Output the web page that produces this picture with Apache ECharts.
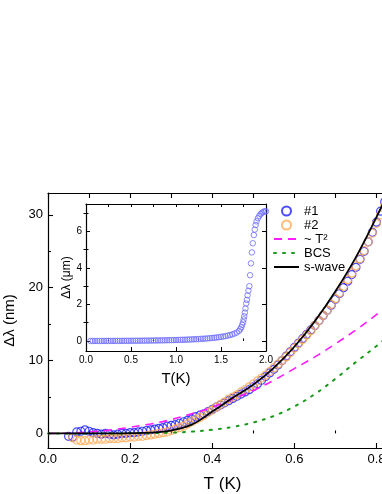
<!DOCTYPE html>
<html><head><meta charset="utf-8">
<script src="https://cdn.jsdelivr.net/npm/echarts@6/dist/echarts.min.js"></script>
<style>html,body{margin:0;padding:0;background:#fff}#c{width:382px;height:494px}</style>
</head><body><div id="c"></div>
<script>
// ---- Main panel data (T in K, Δλ in nm) ----
var t1 = [0.05,0.06,0.07,0.08,0.09,0.10,0.11,0.12,0.13,0.14,0.15,0.16,0.17,0.18,0.19,0.20,0.21,0.22,0.23,0.24,0.25,0.26,0.27,0.28,0.29,0.30,0.31,0.32,0.33,0.34,0.35,0.36,0.37,0.38,0.39,0.40,0.41,0.42,0.43,0.44,0.45,0.46,0.47,0.48,0.49,0.50,0.51,0.52,0.53,0.54,0.55,0.56,0.57,0.58,0.59,0.60,0.61,0.62,0.63,0.64,0.65,0.66,0.67,0.68,0.69,0.70,0.71,0.72,0.73,0.74,0.75,0.76,0.77,0.78,0.79,0.80,0.81,0.82];
var dl1 = [-0.4,-0.5,0.2,0.3,0.5,0.3,0.1,0.0,-0.1,0.0,-0.1,-0.2,-0.1,0.0,0.0,0.1,0.1,0.2,0.3,0.4,0.5,0.6,0.7,0.8,1.0,1.1,1.2,1.4,1.6,1.8,2.0,2.3,2.5,2.7,3.0,3.3,3.6,3.9,4.2,4.5,4.8,5.1,5.4,5.7,6.0,6.4,6.8,7.3,7.8,8.3,8.8,9.4,10.0,10.6,11.2,11.8,12.4,13.0,13.6,14.2,14.8,15.5,16.2,16.9,17.6,18.4,19.2,20.0,20.9,21.8,22.8,23.9,25.0,26.3,27.6,29.0,30.5,31.8];
var t2 = [0.06,0.07,0.08,0.09,0.10,0.11,0.12,0.13,0.14,0.15,0.16,0.17,0.18,0.19,0.20,0.21,0.22,0.23,0.24,0.25,0.26,0.27,0.28,0.29,0.30,0.31,0.32,0.33,0.34,0.35,0.36,0.37,0.38,0.39,0.40,0.41,0.42,0.43,0.44,0.45,0.46,0.47,0.48,0.49,0.50,0.51,0.52,0.53,0.54,0.55,0.56,0.57,0.58,0.59,0.60,0.61,0.62,0.63,0.64,0.65,0.66,0.67,0.68,0.69,0.70,0.71,0.72,0.73,0.74,0.75,0.76,0.77,0.78,0.79,0.80,0.81,0.82];
var dl2 = [-0.6,-0.9,-1.0,-1.0,-0.9,-0.9,-0.8,-0.8,-0.8,-0.7,-0.7,-0.7,-0.6,-0.6,-0.5,-0.5,-0.4,-0.4,-0.3,-0.2,-0.1,0.0,0.1,0.2,0.4,0.6,0.8,1.0,1.3,1.6,1.9,2.2,2.5,2.9,3.2,3.6,4.0,4.3,4.7,5.0,5.3,5.7,6.0,6.4,6.8,7.2,7.6,8.0,8.5,9.0,9.5,10.0,10.5,11.1,11.7,12.3,12.9,13.5,14.1,14.8,15.5,16.2,16.9,17.7,18.5,19.3,20.2,21.1,22.0,23.0,24.0,25.1,26.3,27.5,28.8,30.0,31.2];
var tLine = [0,0.05,0.10,0.15,0.20,0.25,0.30,0.35,0.40,0.45,0.50,0.55,0.60,0.65,0.70,0.75,0.80,0.85];
var t2Fit = [0,0.05,0.2,0.45,0.85,1.3,1.9,2.7,3.6,4.7,5.9,7.3,8.9,10.5,12.3,14.2,16.3,18.4];
var bcsFit = [0,0,0,0,0.01,0.04,0.1,0.25,0.5,0.9,1.5,2.4,3.7,5.4,7.5,9.8,12.0,14.4];
var sWaveFit = [0,0,0,0,0.03,0.12,0.4,1.2,3.0,4.9,6.7,9.0,11.9,15.4,19.5,24.2,29.7,35.5];
// ---- Inset data (T in K, Δλ in μm) ----
var tIn = [0.05,0.075,0.1,0.125,0.15,0.175,0.2,0.225,0.25,0.275,0.3,0.325,0.35,0.375,0.4,0.425,0.45,0.475,0.5,0.525,0.55,0.575,0.6,0.625,0.65,0.675,0.7,0.725,0.75,0.775,0.8,0.825,0.85,0.875,0.9,0.925,0.95,0.975,1.0,1.025,1.05,1.075,1.1,1.125,1.15,1.175,1.2,1.225,1.25,1.275,1.3,1.325,1.35,1.375,1.4,1.425,1.45,1.475,1.5,1.525,1.55,1.575,1.6,1.625,1.65,1.675,1.7,1.715,1.725,1.735,1.745,1.752,1.758,1.765,1.772,1.78,1.788,1.795,1.805,1.815,1.823,1.833,1.843,1.853,1.865,1.875,1.885,1.895,1.91,1.925,1.94,1.955,1.97,1.985,2.0];
var dlIn = [0,0,0,0,0,0.001,0.001,0.002,0.002,0.003,0.003,0.004,0.005,0.005,0.006,0.007,0.008,0.009,0.01,0.011,0.012,0.013,0.015,0.016,0.018,0.019,0.021,0.023,0.025,0.027,0.029,0.031,0.034,0.036,0.039,0.042,0.045,0.048,0.052,0.056,0.06,0.064,0.069,0.074,0.079,0.085,0.091,0.098,0.105,0.113,0.121,0.13,0.14,0.151,0.163,0.176,0.19,0.206,0.224,0.244,0.267,0.293,0.323,0.36,0.405,0.46,0.55,0.65,0.75,0.88,1.02,1.18,1.35,1.55,1.78,2.05,2.25,2.5,2.75,3.0,3.6,4.25,4.85,5.35,5.8,6.1,6.35,6.55,6.72,6.85,6.95,7.02,7.07,7.1,7.1];
// ---- Tick values ----
var mainXTicks = [0,0.2,0.4,0.6,0.8];
var mainXMinor = [0.1,0.3,0.5,0.7];
var mainYTicks = [0,10,20,30];
var mainYMinor = [5,15,25];
var inXTicks = [0,0.5,1.0,1.5,2.0];
var inXMinor = [0.25,0.75,1.25,1.75];
var inYTicks = [0,2,4,6];
var inYMinor = [1,3,5,7];

function zip(a,b){return a.map(function(v,i){return [v,b[i]];});}
var FONT = 'Liberation Sans, Arial, sans-serif';
var BLK = '#000';

function tickAxis(base){
  return Object.assign({
    type:'value', splitLine:{show:false},
    axisLine:{show:true,onZero:false,lineStyle:{color:BLK,width:1.2}},
    axisTick:{show:true,inside:true,length:5,lineStyle:{color:BLK,width:1.1}},
    axisLabel:{show:false}
  }, base);
}

var chart = echarts.init(document.getElementById('c'), null, {renderer:'canvas'});
var lineLegendStyle = {opacity:0};
var option = {
  backgroundColor:'#fff',
  animation:false,
  textStyle:{fontFamily:FONT},
  grid:[
    {left:48, top:193, width:349, height:255, containLabel:false, outerBoundsMode:'none'},
    {left:86, top:204, width:180, height:147, containLabel:false, outerBoundsMode:'none', backgroundColor:'#fff', show:true, borderWidth:0}
  ],
  xAxis:[
    tickAxis({gridIndex:0,min:0,max:0.85,position:'bottom',
      axisTick:{show:true,inside:true,length:5,customValues:mainXTicks,lineStyle:{color:BLK,width:1.1}},
      axisLabel:{show:true,customValues:mainXTicks,fontSize:13,color:BLK,margin:5,fontFamily:FONT,formatter:function(v){return v.toFixed(1);}},
      name:'T (K)',nameLocation:'middle',nameGap:28,nameTextStyle:{fontSize:17,color:BLK,fontFamily:FONT}}),
    tickAxis({gridIndex:0,min:0,max:0.85,position:'bottom',axisLine:{show:false},
      axisTick:{show:true,inside:true,length:3,customValues:mainXMinor,lineStyle:{color:BLK,width:1.1}}}),
    tickAxis({gridIndex:0,min:0,max:0.85,position:'top',
      axisTick:{show:true,inside:true,length:5,customValues:mainXTicks.concat(mainXMinor),lineStyle:{color:BLK,width:1.1}}}),
    tickAxis({gridIndex:1,min:0,max:2,position:'bottom',
      axisTick:{show:true,inside:true,length:4,customValues:inXTicks,lineStyle:{color:BLK,width:1}},
      axisLabel:{show:true,customValues:inXTicks,fontSize:10,color:BLK,margin:4,fontFamily:FONT,formatter:function(v){return v.toFixed(1);}},
      name:'T(K)',nameLocation:'middle',nameGap:20,nameTextStyle:{fontSize:15,color:BLK,fontFamily:FONT}}),
    tickAxis({gridIndex:1,min:0,max:2,position:'bottom',axisLine:{show:false},
      axisTick:{show:true,inside:true,length:2.5,customValues:inXMinor,lineStyle:{color:BLK,width:1}}}),
    tickAxis({gridIndex:1,min:0,max:2,position:'top',
      axisTick:{show:true,inside:true,length:3,customValues:inXTicks.concat(inXMinor),lineStyle:{color:BLK,width:1}}})
  ],
  yAxis:[
    tickAxis({gridIndex:0,min:-2,max:33,position:'left',
      axisTick:{show:true,inside:true,length:5,customValues:mainYTicks,lineStyle:{color:BLK,width:1.1}},
      axisLabel:{show:true,customValues:mainYTicks,fontSize:13,color:BLK,margin:5,fontFamily:FONT},
      name:'\u0394\u03bb (nm)',nameLocation:'middle',nameGap:22,nameTextStyle:{fontSize:15,color:BLK,fontFamily:FONT}}),
    tickAxis({gridIndex:0,min:-2,max:33,position:'left',axisLine:{show:false},
      axisTick:{show:true,inside:true,length:3,customValues:mainYMinor,lineStyle:{color:BLK,width:1.1}}}),
    tickAxis({gridIndex:1,min:-0.55,max:7.5,position:'left',
      axisTick:{show:true,inside:true,length:4,customValues:inYTicks,lineStyle:{color:BLK,width:1}},
      axisLabel:{show:true,customValues:inYTicks,fontSize:10,color:BLK,margin:4,fontFamily:FONT},
      name:'\u0394\u03bb (\u03bcm)',nameLocation:'middle',nameGap:11,nameTextStyle:{fontSize:12,color:BLK,fontFamily:FONT}}),
    tickAxis({gridIndex:1,min:-0.55,max:7.5,position:'left',axisLine:{show:false},
      axisTick:{show:true,inside:true,length:2.5,customValues:inYMinor,lineStyle:{color:BLK,width:1}}}),
    tickAxis({gridIndex:1,min:-0.55,max:7.5,position:'right',
      axisTick:{show:true,inside:true,length:4,customValues:inYTicks,lineStyle:{color:BLK,width:1}}}),
    tickAxis({gridIndex:1,min:-0.55,max:7.5,position:'right',axisLine:{show:false},
      axisTick:{show:true,inside:true,length:2.5,customValues:inYMinor,lineStyle:{color:BLK,width:1}}})
  ],
  legend:{
    orient:'vertical', left:273, top:204, padding:0, itemWidth:25, itemHeight:9, itemGap:0,
    textStyle:{fontSize:13,color:BLK,fontFamily:FONT,lineHeight:14},
    data:[
      {name:'#1'},{name:'#2'},
      {name:'~ T\u00b2',itemStyle:lineLegendStyle},
      {name:'BCS',itemStyle:lineLegendStyle},
      {name:'s-wave',itemStyle:lineLegendStyle}
    ]
  },
  series:[
    {name:'#1',type:'scatter',xAxisIndex:0,yAxisIndex:0,data:zip(t1,dl1),symbol:'circle',symbolSize:8,
      itemStyle:{color:'rgba(0,0,0,0)',borderColor:'#1f1fff',borderWidth:1.2}},
    {name:'#2',type:'scatter',xAxisIndex:0,yAxisIndex:0,data:zip(t2,dl2),symbol:'circle',symbolSize:8,
      itemStyle:{color:'rgba(0,0,0,0)',borderColor:'#ffaa55',borderWidth:1.2}},
    {name:'~ T\u00b2',type:'line',xAxisIndex:0,yAxisIndex:0,data:zip(tLine,t2Fit),smooth:0.4,showSymbol:false,symbol:'none',
      lineStyle:{color:'#ff1aff',width:1.6,type:[8,6]},itemStyle:{color:'#ff1aff'}},
    {name:'BCS',type:'line',xAxisIndex:0,yAxisIndex:0,data:zip(tLine,bcsFit),smooth:0.4,showSymbol:false,symbol:'none',
      lineStyle:{color:'#1a9a1a',width:2,type:[2,7],cap:'round'},itemStyle:{color:'#1a9a1a'}},
    {name:'s-wave',type:'line',xAxisIndex:0,yAxisIndex:0,data:zip(tLine,sWaveFit),smooth:0.4,showSymbol:false,symbol:'none',
      lineStyle:{color:BLK,width:1.8},itemStyle:{color:BLK}},
    {name:'inset',type:'scatter',xAxisIndex:3,yAxisIndex:2,data:zip(tIn,dlIn),symbol:'circle',symbolSize:5.5,
      itemStyle:{color:'rgba(0,0,0,0)',borderColor:'#6b6bff',borderWidth:1}}
  ]
};
chart.setOption(option);
</script></body></html>
